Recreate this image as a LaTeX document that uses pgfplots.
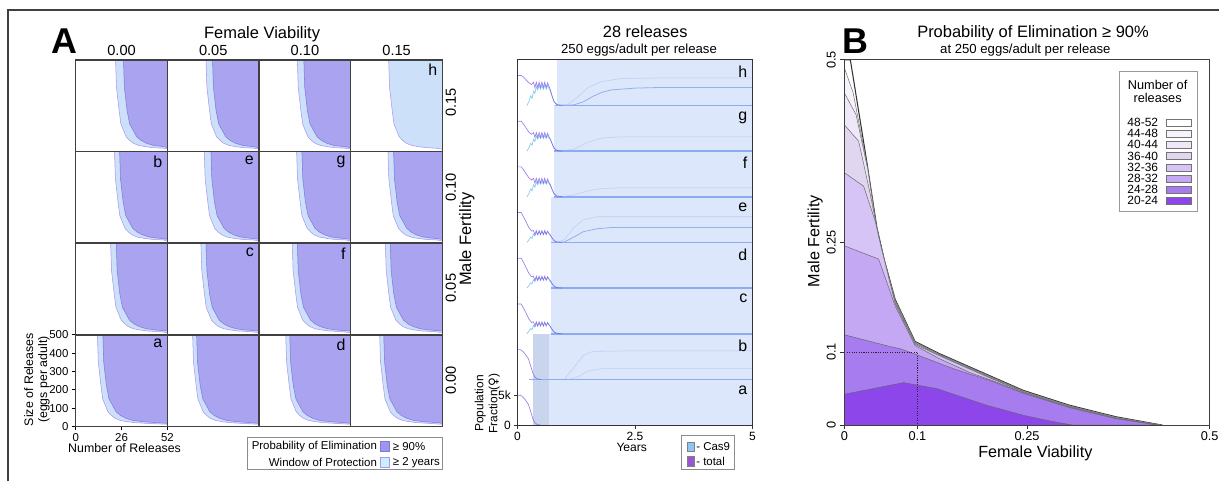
\documentclass[border=0pt]{standalone}
\usepackage{fontspec}
\setmainfont{Liberation Sans}
\newfontfamily\dejavu{DejaVu Sans}
\usepackage{pgfplots}
\usepackage{pgfplotstable}
\pgfplotsset{compat=1.18}

\definecolor{lbA}{RGB}{204,224,250}
\definecolor{puA}{RGB}{170,163,240}
\definecolor{edgeL}{RGB}{170,150,240}
\definecolor{edgeP}{RGB}{130,120,225}
\definecolor{bgM}{RGB}{220,231,251}
\definecolor{bandM}{RGB}{200,213,236}
\definecolor{zeroM}{RGB}{140,172,240}
\definecolor{totM}{RGB}{120,85,225}
\definecolor{casM}{RGB}{120,195,240}
\definecolor{regM}{RGB}{150,175,235}
\definecolor{bA}{RGB}{140,70,234}
\definecolor{bB}{RGB}{166,124,238}
\definecolor{bC}{RGB}{197,168,244}
\definecolor{bD}{RGB}{214,196,246}
\definecolor{bE}{RGB}{224,214,240}
\definecolor{bF}{RGB}{238,232,248}
\definecolor{bG}{RGB}{246,243,251}
\definecolor{bH}{RGB}{255,255,255}
\definecolor{swL}{RGB}{200,240,255}
\definecolor{swC}{RGB}{143,199,242}
\definecolor{swT}{RGB}{154,85,211}
\definecolor{swP}{RGB}{158,150,236}

\newcommand\fs[2]{\fontsize{#1pt}{#2pt}\selectfont}

\pgfplotstableread{
s l11 p11 l12 p12 l13 p13 l14 p14 l21 p21 l22 p22 l23 p23 l24 p24 l31 p31 l32 p32 l33 p33 l34 p34 l41 p41 l42 p42 l43 p43 l44 p44
500 22.6 27.1 21.9 25.6 21.7 25.4 21.5 52 22 24.9 20.9 24.7 21.3 24.3 21.1 24.3 19.8 23 19 21.9 18.8 21.7 19.6 22.4 12.3 15.4 14.3 16.6 15.1 17.4 16.4 18.7
350 23.1 27.6 22.4 26.1 22.2 25.9 22 52 22.5 25.4 21.4 25.2 21.8 24.8 21.6 24.8 20.3 23.5 19.5 22.4 19.3 22.2 20.1 22.9 12.8 15.9 14.8 17.1 15.6 17.9 16.9 19.2
224 24.6 29.1 23.9 27.6 23.7 27.4 23.5 52 24 26.9 22.9 26.7 23.3 26.3 23.1 26.3 21.8 25 21 23.9 20.8 23.7 21.6 24.4 14.3 17.4 16.3 18.6 17.1 19.4 18.4 20.7
150 25.6 30.6 24.9 29.1 24.7 28.9 24.5 52 25 28.4 23.9 28.2 24.3 27.8 24.1 27.8 22.8 26.5 22 25.4 21.8 25.2 22.6 25.9 15.3 18.9 17.3 20.1 18.1 20.9 19.4 22.2
115 27.1 32.6 26.4 31.1 26.2 30.9 26 52 26.5 30.4 25.4 30.2 25.8 29.8 25.6 29.8 24.3 28.5 23.5 27.4 23.3 27.2 24.1 27.9 16.8 20.9 18.8 22.1 19.6 22.9 20.9 24.2
80 28.6 34.6 27.9 33.1 27.7 32.9 27.5 52 28 32.4 26.9 32.2 27.3 31.8 27.1 31.8 25.8 30.5 25 29.4 24.8 29.2 25.6 29.9 18.3 22.9 20.3 24.1 21.1 24.9 22.4 26.2
60 30.6 37.1 29.9 35.6 29.7 35.4 29.5 52 30 34.9 28.9 34.7 29.3 34.3 29.1 34.3 27.8 33 27 31.9 26.8 31.7 27.6 32.4 20.3 25.4 22.3 26.6 23.1 27.4 24.4 28.7
45 32.6 40.1 31.9 38.6 31.7 38.4 31.5 52 32 37.9 30.9 37.7 31.3 37.3 31.1 37.3 29.8 36 29 34.9 28.8 34.7 29.6 35.4 22.3 28.4 24.3 29.6 25.1 30.4 26.4 31.7
33 35.6 44.1 34.9 42.6 34.7 42.4 34.5 52 35 41.9 33.9 41.7 34.3 41.3 34.1 41.3 32.8 40 32 38.9 31.8 38.7 32.6 39.4 25.3 32.4 27.3 33.6 28.1 34.4 29.4 35.7
26 39.6 50.1 38.9 48.6 38.7 48.4 38.5 52 39 47.9 37.9 47.7 38.3 47.3 38.1 47.3 36.8 46 36 44.9 35.8 44.7 36.6 45.4 29.3 38.4 31.3 39.6 32.1 40.4 33.4 41.7
21 43.6 52 42.9 52 42.7 52 42.5 52 43 52 41.9 52 42.3 52 42.1 52 40.8 52 40 52 39.8 52 40.6 52 33.3 46.4 35.3 47.6 36.1 48.4 37.4 49.7
17 50.6 52 49.9 52 49.7 52 49.5 52 50 52 48.9 52 49.3 52 49.1 52 47.8 52 47 52 46.8 52 47.6 52 40.3 52 42.3 52 43.1 52 44.4 52
12 52 52 52 52 52 52 52 52 52 52 52 52 52 52 52 52 52 52 52 52 52 52 52 52 52 52 52 52 52 52 52 52
500 52 52 52 52 52 52 52 52 52 52 52 52 52 52 52 52 52 52 52 52 52 52 52 52 52 52 52 52 52 52 52 52
}\gridtab

\pgfplotstableread{
x H G E
0 5 5 5
0.08 5 5 5
0.12 4.8 4.6 4.4
0.18 4.3 3.9 3.5
0.24 3.8 3.2 2.5
0.30 3.5 2.8 1.9
0.34 3.9 3.1 2.0
0.37 3.0 2.3 1.3
0.40 3.9 3.1 2.0
0.43 3.0 2.3 1.3
0.46 3.9 3.1 2.0
0.49 3.0 2.3 1.3
0.52 3.9 3.1 2.0
0.55 3.0 2.3 1.3
0.58 3.9 3.1 2.0
0.61 3.0 2.3 1.3
0.64 3.8 3.0 1.9
0.67 3.2 2.4 1.5
0.70 2.6 2.0 1.2
0.74 1.5 1.2 0.7
0.78 0.6 0.5 0.3
0.84 0.15 0.12 0.08
0.95 0 0 0
}\tottab

\pgfplotstableread{
x H G E
0.20 0 0 0
0.24 0.6 0.5 0.4
0.28 1.6 1.3 0.9
0.31 1.2 1.0 0.7
0.34 2.4 2.0 1.4
0.37 2.0 1.6 1.1
0.40 3.2 2.5 1.7
0.43 2.6 2.0 1.3
0.46 3.4 2.6 1.8
0.49 2.7 2.1 1.4
0.52 3.4 2.6 1.8
0.55 2.7 2.1 1.4
0.58 3.4 2.6 1.8
0.61 2.7 2.1 1.4
0.64 3.4 2.6 1.8
0.67 2.8 2.2 1.5
0.70 2.4 1.9 1.2
0.74 1.4 1.1 0.7
0.78 0.55 0.45 0.3
0.84 0.12 0.1 0.07
0.95 0 0 0
}\castab

\pgfplotstableread{
x y
0 5
0.06 5
0.10 4.8
0.16 4.3
0.23 3.5
0.28 2.3
0.33 1.0
0.37 0.4
0.42 0.1
0.50 0
}\abtab

\tikzset{
  lett/.style={anchor=north east, inner sep=1pt, font=\fs{12}{12}},
  tot/.style={totM, line width=0.5pt, opacity=0.75},
  cas/.style={casM, line width=0.5pt, opacity=0.9},
  zl/.style={zeroM, line width=1.1pt},
  reg/.style={regM, line width=0.6pt},
  regf/.style={regM, line width=0.4pt, opacity=0.45},
}
\pgfplotsset{
  every axis/.append style={/pgf/number format/assume math mode=true},
  cellstyle/.style={scale only axis, width=69pt, height=69pt, anchor=south west,
    xmin=0, xmax=52, ymin=0, ymax=500, xtick=\empty, ytick=\empty,
    axis line style={draw=black!75, line width=1.1pt}, axis on top},
  rowstyle/.style={scale only axis, width=176.8pt, height=34.375pt, anchor=south west,
    xmin=0, xmax=5, ymin=0, ymax=7.64, hide axis, clip=false},
}

\newcommand\cellA[6]{%
\begin{axis}[cellstyle, at={(#1pt,#2pt)}, #6]
\addplot[fill=lbA, draw=edgeL, line width=0.4pt] table[x=#3,y=s]{\gridtab};
\addplot[fill=puA, draw=edgeP, line width=0.4pt] table[x=#4,y=s]{\gridtab};
\node[lett] at (rel axis cs:0.96,0.97) {#5};
\end{axis}}

\begin{document}
\begin{tikzpicture}
\begin{scope}[x=0.75pt,y=-0.75pt]
\useasboundingbox (0,0) rectangle (1223,483);
\end{scope}

% ---------------- Panel A grid ----------------
\cellA{57}{-114}{l11}{p11}{}{}
\cellA{126}{-114}{l12}{p12}{}{}
\cellA{195}{-114}{l13}{p13}{}{}
\cellA{264}{-114}{l14}{p14}{h}{}
\cellA{57}{-183}{l21}{p21}{b}{}
\cellA{126}{-183}{l22}{p22}{e}{}
\cellA{195}{-183}{l23}{p23}{g}{}
\cellA{264}{-183}{l24}{p24}{}{}
\cellA{57}{-252}{l31}{p31}{}{}
\cellA{126}{-252}{l32}{p32}{c}{}
\cellA{195}{-252}{l33}{p33}{f}{}
\cellA{264}{-252}{l34}{p34}{}{}
\cellA{57}{-321}{l41}{p41}{a}{xtick={0,26,52}, ytick={0,100,200,300,400,500},
  tick align=outside, xtick pos=left, ytick pos=left, major tick length=3pt,
  tick style={black, line width=0.5pt}, tick label style={font=\fs{8.6}{9}},
  xticklabel style={yshift=1pt}, yticklabel style={xshift=1pt}}
\cellA{126}{-321}{l42}{p42}{}{}
\cellA{195}{-321}{l43}{p43}{d}{}
\cellA{264}{-321}{l44}{p44}{}{}

% ---------------- Middle panel rows ----------------
% row a
\begin{axis}[rowstyle, at={(389.5pt,-320pt)}]
\addplot[fill=bgM, draw=none] coordinates {(0.33,0)(5,0)(5,7.64)(0.33,7.64)};
\addplot[fill=bandM, draw=none] coordinates {(0.33,0)(0.67,0)(0.67,7.64)(0.33,7.64)};
\addplot[tot] table[x=x,y=y]{\abtab};
\node[lett] at (rel axis cs:0.985,0.9) {a};
\end{axis}
% row b
\begin{axis}[rowstyle, at={(389.5pt,-285.625pt)}]
\addplot[fill=bgM, draw=none] coordinates {(0.33,0)(5,0)(5,7.64)(0.33,7.64)};
\addplot[fill=bandM, draw=none] coordinates {(0.33,0)(0.67,0)(0.67,7.64)(0.33,7.64)};
\addplot[zl] coordinates {(0.25,0)(5,0)};
\addplot[regf] coordinates {(1.0,0)(1.2,2.0)(1.4,4.0)(1.6,4.7)(2.5,4.8)(5,4.8)};
\addplot[regf] coordinates {(1.1,0)(1.3,0.5)(1.5,1.4)(1.8,1.8)(5,1.8)};
\addplot[tot] table[x=x,y=y]{\abtab};
\node[lett] at (rel axis cs:0.985,0.9) {b};
\end{axis}
% row c
\begin{axis}[rowstyle, at={(389.5pt,-251.25pt)}]
\addplot[fill=bgM, draw=none] coordinates {(0.72,0)(5,0)(5,7.64)(0.72,7.64)};
\addplot[zl] coordinates {(0.72,0)(5,0)};
\addplot[cas] table[x=x,y=E]{\castab};
\addplot[tot] table[x=x,y=E]{\tottab};
\node[lett] at (rel axis cs:0.985,0.9) {c};
\end{axis}
% row d
\begin{axis}[rowstyle, at={(389.5pt,-216.875pt)}]
\addplot[fill=bgM, draw=none] coordinates {(0.72,0)(5,0)(5,7.64)(0.72,7.64)};
\addplot[zl] coordinates {(0.72,0)(5,0)};
\addplot[cas] table[x=x,y=E]{\castab};
\addplot[tot] table[x=x,y=E]{\tottab};
\node[lett] at (rel axis cs:0.985,0.9) {d};
\end{axis}
% row e
\begin{axis}[rowstyle, at={(389.5pt,-182.5pt)}]
\addplot[fill=bgM, draw=none] coordinates {(0.72,0)(5,0)(5,7.64)(0.72,7.64)};
\addplot[zl] coordinates {(0.72,0)(5,0)};
\addplot[regf] coordinates {(0.85,0)(1.0,0.5)(1.2,2.5)(1.4,3.8)(1.7,4.3)(2.5,4.3)(5,4.3)};
\addplot[reg] coordinates {(0.85,0)(1.0,0.1)(1.2,0.9)(1.4,1.8)(1.7,2.3)(2.0,2.5)(3,2.5)(5,2.5)};
\addplot[cas] table[x=x,y=E]{\castab};
\addplot[tot] table[x=x,y=E]{\tottab};
\node[lett] at (rel axis cs:0.985,0.9) {e};
\end{axis}
% row f
\begin{axis}[rowstyle, at={(389.5pt,-148.125pt)}]
\addplot[fill=bgM, draw=none] coordinates {(0.78,0)(5,0)(5,7.64)(0.78,7.64)};
\addplot[zl] coordinates {(0.78,0)(5,0)};
\addplot[regf] coordinates {(0.9,0)(1.2,0.3)(1.5,1.0)(1.8,1.4)(2.2,1.5)(5,1.5)};
\addplot[cas] table[x=x,y=G]{\castab};
\addplot[tot] table[x=x,y=G]{\tottab};
\node[lett] at (rel axis cs:0.985,0.9) {f};
\end{axis}
% row g
\begin{axis}[rowstyle, at={(389.5pt,-113.75pt)}]
\addplot[fill=bgM, draw=none] coordinates {(0.78,0)(5,0)(5,7.64)(0.78,7.64)};
\addplot[zl] coordinates {(0.78,0)(5,0)};
\addplot[regf] coordinates {(0.9,0)(1.2,0.3)(1.5,1.5)(1.8,2.2)(2.2,2.4)(5,2.4)};
\addplot[cas] table[x=x,y=G]{\castab};
\addplot[tot] table[x=x,y=G]{\tottab};
\node[lett] at (rel axis cs:0.985,0.9) {g};
\end{axis}
% row h
\begin{axis}[rowstyle, at={(389.5pt,-79.375pt)}]
\addplot[fill=bgM, draw=none] coordinates {(0.835,0)(5,0)(5,7.64)(0.835,7.64)};
\addplot[zl] coordinates {(0.8,0)(5,0)};
\addplot[regf] coordinates {(0.9,0)(1.1,0.3)(1.3,1.5)(1.5,3.0)(1.8,4.0)(2.2,4.5)(3,4.6)(5,4.6)};
\addplot[reg] coordinates {(0.9,0)(1.2,0.1)(1.4,0.6)(1.6,1.5)(1.8,2.2)(2.0,2.6)(2.5,2.9)(3,3.0)(5,3.0)};
\addplot[cas] table[x=x,y=H]{\castab};
\addplot[tot] table[x=x,y=H]{\tottab};
\node[lett] at (rel axis cs:0.985,0.9) {h};
\end{axis}
% middle frame axis
\begin{axis}[scale only axis, width=176.8pt, height=275pt, at={(389.5pt,-320pt)}, anchor=south west,
  xmin=0, xmax=5, ymin=0, ymax=61.12, xtick={0,2.5,5}, xticklabels={0,2.5,5},
  ytick={0,5}, yticklabels={0,5k}, tick align=outside, xtick pos=left, ytick pos=left,
  major tick length=3pt, tick style={black!80, line width=0.5pt},
  axis line style={draw=black!80, line width=0.9pt}, tick label style={font=\fs{9}{10}},
  xticklabel style={yshift=1.5pt}, yticklabel style={xshift=1.5pt}]
\addplot[draw=none] coordinates {(0,0)};
\end{axis}

% ---------------- Panel B ----------------
\begin{axis}[scale only axis, width=275pt, height=275pt, at={(635.5pt,-320pt)}, anchor=south west,
  xmin=0, xmax=0.5, ymin=0, ymax=0.5, xtick={0,0.1,0.25,0.5}, xticklabels={0,0.1,0.25,0.5},
  ytick={0,0.1,0.25,0.5}, yticklabels={0,0.1,0.25,0.5},
  yticklabel style={rotate=90, anchor=south},
  xticklabel style={yshift=2pt},
  tick align=outside, xtick pos=left, ytick pos=left, major tick length=3pt,
  tick style={black!80, line width=0.5pt}, axis line style={draw=black!75, line width=0.9pt},
  tick label style={font=\fs{9.6}{10}}, axis on top]
\addplot[fill=bH, draw=black!80, line width=0.8pt] coordinates {(0,0.5)(0.0082,0.5)(0.03,0.365)(0.0446,0.27)(0.055,0.225)(0.0696,0.172)(0.0968,0.1145)(0.13,0.098)(0.1718,0.0796)(0.2446,0.0477)(0.308,0.0273)(0.372,0.0114)(0.4355,0)(0,0)};
\addplot[fill=bG, draw=black!60, line width=0.35pt] coordinates {(0,0.489)(0.012,0.455)(0.03,0.362)(0.0446,0.268)(0.055,0.224)(0.0696,0.171)(0.0968,0.1138)(0.13,0.0972)(0.1718,0.0788)(0.2446,0.047)(0.308,0.0266)(0.372,0.0108)(0.434,0)(0,0)};
\addplot[fill=bF, draw=black!60, line width=0.35pt] coordinates {(0,0.4546)(0.016,0.425)(0.032,0.35)(0.0446,0.266)(0.055,0.222)(0.0696,0.17)(0.0968,0.113)(0.13,0.0965)(0.1718,0.078)(0.2446,0.0463)(0.308,0.026)(0.372,0.0102)(0.433,0)(0,0)};
\addplot[fill=bE, draw=black!60, line width=0.35pt] coordinates {(0,0.411)(0.0196,0.3886)(0.0355,0.316)(0.048,0.252)(0.0696,0.168)(0.0968,0.112)(0.13,0.0958)(0.1718,0.0773)(0.2446,0.0456)(0.308,0.0254)(0.372,0.0097)(0.432,0)(0,0)};
\addplot[fill=bD, draw=black!60, line width=0.35pt] coordinates {(0,0.3455)(0.0264,0.327)(0.042,0.28)(0.05,0.245)(0.0696,0.166)(0.0968,0.1105)(0.13,0.095)(0.1718,0.0765)(0.2446,0.045)(0.308,0.025)(0.372,0.0093)(0.431,0)(0,0)};
\addplot[fill=bC, draw=black!60, line width=0.35pt] coordinates {(0,0.2454)(0.0469,0.2273)(0.0696,0.163)(0.0968,0.109)(0.13,0.091)(0.1718,0.072)(0.2037,0.0605)(0.2446,0.0443)(0.308,0.0245)(0.372,0.009)(0.43,0)(0,0)};
\addplot[fill=bB, draw=black!60, line width=0.35pt] coordinates {(0,0.1237)(0.065,0.1069)(0.0764,0.1046)(0.1014,0.0955)(0.15,0.077)(0.2037,0.0595)(0.2446,0.0437)(0.308,0.024)(0.372,0.0087)(0.43,0)(0,0)};
\addplot[fill=bA, draw=black!60, line width=0.35pt] coordinates {(0,0.0423)(0.081,0.0582)(0.1014,0.0545)(0.1264,0.05)(0.1946,0.0273)(0.2446,0.0136)(0.28,0.006)(0.313,0)(0,0)};
\addplot[black!85, densely dotted, line width=0.8pt] coordinates {(0,0.1)(0.1,0.1)(0.1,0)};
\end{axis}

% ---------------- Text and legends ----------------
\begin{scope}[x=0.75pt,y=-0.75pt]
\draw[black!75, line width=0.9pt] (8,483) -- (8,10) -- (1223,10);
% Panel A
\node[font=\bfseries\fs{27}{27}] at (65,41) {A};
\node[font=\fs{12.4}{13}] at (263,34) {Female Viability};
\foreach \x/\t in {122/0.00,214/0.05,306/0.10,398/0.15}
  \node[font=\fs{11}{12}] at (\x,51) {\t};
\foreach \y/\t in {103/0.15,188/0.10,289/0.05,382/0.00}
  \node[font=\fs{11}{12}, rotate=90] at (452.5,\y) {\t};
\node[font=\fs{12.4}{13}, rotate=90] at (468.5,240) {Male Fertility};
\node[font=\fs{9.3}{10.5}, rotate=90, align=center] at (37,381) {Size of Releases\\(eggs per adult)};
\node[font=\fs{9.3}{10}] at (125,450) {Number of Releases};
\draw[black!45, line width=0.6pt] (248,439.3) rectangle (444,470.7);
\node[font=\fs{8.6}{9}, anchor=east, inner sep=0pt] at (378.5,448) {Probability of Elimination};
\draw[draw=edgeP, fill=swP, line width=0.5pt] (381.5,443.3) rectangle (391,452.8);
\node[font=\fs{8.6}{9}, anchor=west, inner sep=0pt] at (394,448) {≥ 90\%};
\node[font=\fs{8.6}{9}, anchor=east, inner sep=0pt] at (378.5,464) {Window of Protection};
\draw[draw=edgeL, fill=swL, line width=0.5pt] (381.5,459.3) rectangle (391,468.8);
\node[font=\fs{8.6}{9}, anchor=west, inner sep=0pt] at (394,464) {≥ 2 years};
% Middle
\node[font=\fs{12.3}{13}] at (647.5,32) {28 releases};
\node[font=\fs{9.9}{10}] at (641.3,50) {250 eggs/adult per release};
\node[font=\fs{9.1}{10}] at (634,449) {Years};
\node[font=\fs{9}{10.5}, rotate=90, align=center] at (489,405) {Population\\Fraction({\dejavu ♀})};
\draw[black!45, line width=0.6pt] (684.3,437.3) rectangle (736.7,470.7);
\draw[draw=black!50, fill=swC, line width=0.4pt] (689.3,443.6) rectangle (697,453.2);
\node[font=\fs{8.6}{9}, anchor=west, inner sep=0pt] at (698.5,448.4) {- Cas9};
\draw[draw=black!50, fill=swT, line width=0.4pt] (689.3,458.3) rectangle (697,467.9);
\node[font=\fs{8.6}{9}, anchor=west, inner sep=0pt] at (698.5,463.1) {- total};
% Panel B
\node[font=\bfseries\fs{27}{27}] at (858,41) {B};
\node[font=\fs{12.4}{13}] at (1036.7,33) {Probability of Elimination ≥ 90\%};
\node[font=\fs{9.9}{10}] at (1029,50) {at 250 eggs/adult per release};
\node[font=\fs{12.2}{13}] at (1039,455) {Female Viability};
\node[font=\fs{12.2}{13}, rotate=90] at (818,242) {Male Fertility};
\draw[black!40, fill=white, line width=0.6pt] (1123.3,72) rectangle (1201.7,212.3);
\node[font=\fs{9.6}{10}] at (1161.7,85.5) {Number of};
\node[font=\fs{9.6}{10}] at (1161.7,98.5) {releases};
\foreach \i/\t/\c in {0/48-52/bH,1/44-48/bG,2/40-44/bF,3/36-40/bE,4/32-36/bD,5/28-32/bC,6/24-28/bB,7/20-24/bA} {
  \node[font=\fs{9}{9}, anchor=west, inner sep=0pt] at (1131.2,{123+11.2*\i}) {\t};
  \draw[draw=black!55, fill=\c, line width=0.4pt] (1170,{119.6+11.2*\i}) rectangle (1195,{126.6+11.2*\i});
}
\end{scope}
\end{tikzpicture}
\end{document}
